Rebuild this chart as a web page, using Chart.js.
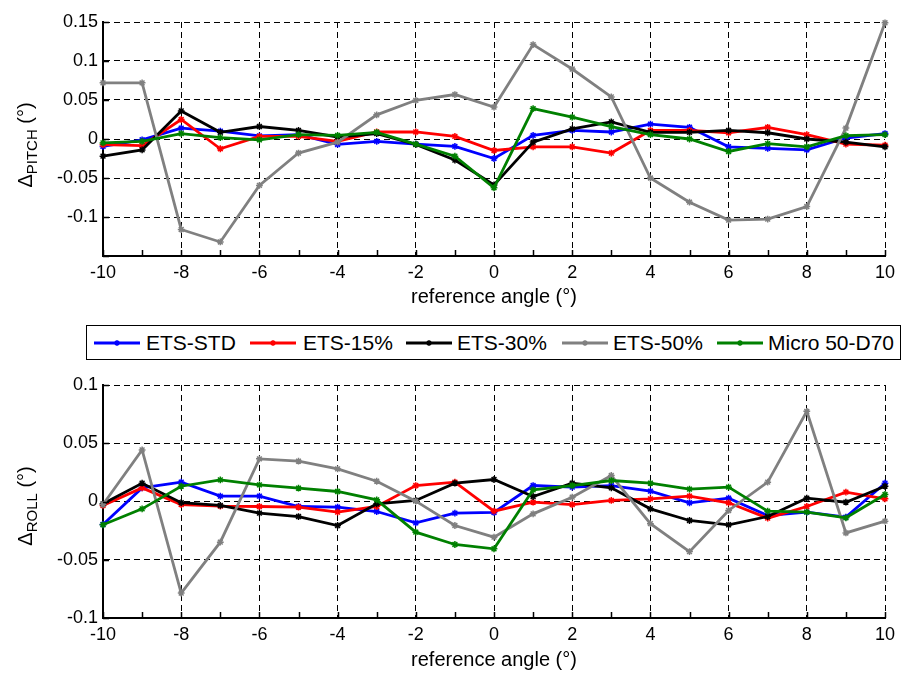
<!DOCTYPE html>
<html>
<head>
<meta charset="utf-8">
<script src="https://cdn.jsdelivr.net/npm/chart.js@4.4.1/dist/chart.umd.min.js"></script>
<style>
  html, body { margin: 0; padding: 0; background: #fff; }
  body { width: 903px; height: 673px; position: relative; overflow: hidden;
         font-family: "Liberation Sans", Arial, sans-serif; color: #000; }
  .panel { position: absolute; left: 0; width: 903px; }
  .ytitle { position: absolute; white-space: nowrap; font-size: 20px;
            transform: translate(-50%, -50%) rotate(-90deg); }
  .ytitle sub { font-size: 15px; vertical-align: -5px; }
  #legend { position: absolute; left: 86px; top: 325px; width: 813px; height: 33px;
            border: 1.5px solid #000; background: #fff; }
  .lg { position: absolute; top: 0; height: 33px; line-height: 33px; font-size: 21px; white-space: nowrap; }
  .sw { position: absolute; top: 10px; }
</style>
</head>
<body>
<div class="panel" style="top:0;height:315px"><canvas id="pitch"></canvas></div>
<div class="panel" style="top:365px;height:308px"><canvas id="roll"></canvas></div>
<div class="ytitle" style="left:27px;top:145px">&Delta;<sub>PITCH</sub> (°)</div>
<div class="ytitle" style="left:27px;top:506px">&Delta;<sub>ROLL</sub> (°)</div>
<div id="legend"></div>
<script>
// reference angles (deg)
const angles = [-10,-9,-8,-7,-6,-5,-4,-3,-2,-1,0,1,2,3,4,5,6,7,8,9,10];

const seriesNames = ['ETS-STD', 'ETS-15%', 'ETS-30%', 'ETS-50%', 'Micro 50-D70'];
const seriesColors = ['#0000ff', '#ff0000', '#000000', '#808080', '#008000'];

// pitch error per series (deg)
const pitchSTD   = [-0.0095,-0.001,0.014,0.010,0.004,0.0056,-0.007,-0.003,-0.0065,-0.0095,-0.025,0.0047,0.011,0.009,0.019,0.015,-0.010,-0.012,-0.014,0.0013,0.007];
const pitch15    = [-0.0073,-0.0086,0.025,-0.0125,0.0034,0.0034,-0.003,0.009,0.009,0.0034,-0.0147,-0.010,-0.010,-0.018,0.011,0.011,0.008,0.015,0.0056,-0.0065,-0.008];
const pitch30    = [-0.022,-0.014,0.036,0.0086,0.016,0.011,0.0026,0.007,-0.007,-0.027,-0.059,-0.004,0.013,0.022,0.0086,0.0086,0.011,0.008,0.0,-0.004,-0.010];
const pitch50    = [0.072,0.072,-0.116,-0.132,-0.0595,-0.018,-0.004,0.031,0.0496,0.057,0.041,0.121,0.0897,0.054,-0.050,-0.081,-0.104,-0.1026,-0.0866,0.014,0.149];
const pitchMicro = [-0.005,-0.003,0.007,0.0017,-0.001,0.0056,0.0047,0.0086,-0.0065,-0.022,-0.0625,0.039,0.028,0.016,0.0056,0.0,-0.016,-0.006,-0.010,0.0043,0.0056];

// roll error per series (deg)
const rollSTD   = [-0.0197,0.0117,0.0166,0.0046,0.0046,-0.0043,-0.0049,-0.0086,-0.0183,-0.010,-0.0094,0.0137,0.0123,0.0137,0.0089,-0.0011,0.0029,-0.012,-0.0091,-0.0134,0.0157];
const roll15    = [-0.0034,0.0117,-0.0026,-0.004,-0.0043,-0.0049,-0.0091,-0.0043,0.0137,0.0166,-0.0083,-0.0006,-0.0026,0.0009,0.0023,0.0046,-0.0011,-0.0143,-0.0043,0.008,0.0023];
const roll30    = [-0.002,0.0157,-0.001,-0.0034,-0.010,-0.0129,-0.0206,-0.002,0.0009,0.0157,0.0189,0.0043,0.0157,0.0117,-0.0063,-0.0163,-0.020,-0.0129,0.0029,-0.0006,0.0131];
const roll50    = [-0.0026,0.0443,-0.0786,-0.0349,0.0366,0.0346,0.028,0.0174,0.0003,-0.0206,-0.0306,-0.0106,0.0037,0.0223,-0.019,-0.043,-0.0077,0.0166,0.0774,-0.027,-0.0169];
const rollMicro = [-0.020,-0.0063,0.0131,0.0186,0.0143,0.0114,0.0086,0.0014,-0.0263,-0.0369,-0.0406,0.010,0.0137,0.018,0.0157,0.0106,0.0123,-0.0083,-0.0091,-0.014,0.006];

// axis tick values
const xTicks = [-10,-8,-6,-4,-2,0,2,4,6,8,10];
const pitchTicks = [-0.15,-0.1,-0.05,0,0.05,0.1,0.15];
const rollTicks = [-0.1,-0.05,0,0.05,0.1];

const FONT = '"Liberation Sans", Arial, sans-serif';

function makeDatasets(arrays) {
  return arrays.map((vals, i) => ({
    label: seriesNames[i],
    data: angles.map((a, k) => ({ x: a, y: vals[k] })),
    borderColor: seriesColors[i],
    backgroundColor: seriesColors[i],
    borderWidth: 2.8,
    pointStyle: 'star',
    pointRadius: 3.4,
    pointBorderWidth: 1.5,
    pointBorderColor: seriesColors[i],
    pointHoverRadius: 3.4,
    tension: 0,
    clip: false,
    order: -i
  }));
}

// small inward tick marks on the left and bottom axes
const innerTicks = {
  id: 'innerTicks',
  afterDatasetsDraw(chart) {
    const { ctx, chartArea: a, scales: { x, y } } = chart;
    ctx.save();
    ctx.strokeStyle = '#000';
    ctx.lineWidth = 1.5;
    ctx.beginPath();
    for (const v of angles) {
      const px = Math.round(x.getPixelForValue(v)) + 0.5;
      ctx.moveTo(px, a.bottom);
      ctx.lineTo(px, a.bottom - 6);
    }
    for (const t of y.ticks) {
      const py = Math.round(y.getPixelForValue(t.value)) + 0.5;
      ctx.moveTo(a.left, py);
      ctx.lineTo(a.left + 6, py);
    }
    ctx.stroke();
    ctx.restore();
  }
};

function makeChart(id, arrays, yTickVals, hideLabel, pad, xHeight, titleBottom) {
  const yMin = yTickVals[0], yMax = yTickVals[yTickVals.length - 1];
  return new Chart(document.getElementById(id), {
    type: 'line',
    data: { datasets: makeDatasets(arrays) },
    plugins: [innerTicks],
    options: {
      responsive: true,
      maintainAspectRatio: false,
      animation: false,
      events: [],
      layout: { padding: pad },
      plugins: { legend: { display: false }, tooltip: { enabled: false } },
      scales: {
        x: {
          type: 'linear', min: -10, max: 10,
          afterBuildTicks: s => { s.ticks = xTicks.map(v => ({ value: v })); },
          afterFit: s => { s.height = xHeight; },
          ticks: { autoSkip: false, maxRotation: 0, padding: 6, color: '#000',
                   font: { family: FONT, size: 18 }, callback: v => String(v) },
          grid: { color: '#000', lineWidth: 1, drawTicks: false },
          border: { display: true, color: '#000', width: 2, dash: [6, 4] },
          title: { display: true, text: 'reference angle (°)', color: '#000',
                   font: { family: FONT, size: 20 }, padding: { top: 0, bottom: titleBottom } }
        },
        y: {
          type: 'linear', min: yMin, max: yMax,
          afterBuildTicks: s => { s.ticks = yTickVals.map(v => ({ value: v })); },
          afterFit: s => { s.width = 103; },
          ticks: { autoSkip: false, padding: 5, color: '#000',
                   font: { family: FONT, size: 18 },
                   callback: v => (hideLabel !== null && Math.abs(v - hideLabel) < 1e-9) ? '' : String(Math.round(v * 100) / 100) },
          grid: { color: '#000', lineWidth: 1, drawTicks: false },
          border: { display: true, color: '#000', width: 2, dash: [6, 4] }
        }
      }
    }
  });
}

makeChart('pitch', [pitchSTD, pitch15, pitch30, pitch50, pitchMicro], pitchTicks, -0.15,
          { top: 22, right: 18, left: 0, bottom: 0 }, 59, 6);
makeChart('roll', [rollSTD, roll15, roll30, roll50, rollMicro], rollTicks, null,
          { top: 20, right: 18, left: 0, bottom: 0 }, 55, 1);

// shared legend
const legendPos = [
  { line: 7,   text: 59 },
  { line: 163, text: 216 },
  { line: 319, text: 370 },
  { line: 475, text: 526 },
  { line: 630, text: 681 }
];
const legend = document.getElementById('legend');
seriesNames.forEach((name, i) => {
  const c = seriesColors[i];
  const sw = document.createElementNS('http://www.w3.org/2000/svg', 'svg');
  sw.setAttribute('class', 'sw');
  sw.setAttribute('width', '46');
  sw.setAttribute('height', '14');
  sw.style.left = legendPos[i].line + 'px';
  sw.innerHTML = `<line x1="0" y1="7" x2="46" y2="7" stroke="${c}" stroke-width="3"/>` +
    `<path d="M23 4V10M20 7H26M21 5L25 9M25 5L21 9" stroke="${c}" stroke-width="1.4"/>`;
  legend.appendChild(sw);
  const t = document.createElement('div');
  t.className = 'lg';
  t.style.left = legendPos[i].text + 'px';
  t.textContent = name;
  legend.appendChild(t);
});
</script>
</body>
</html>
